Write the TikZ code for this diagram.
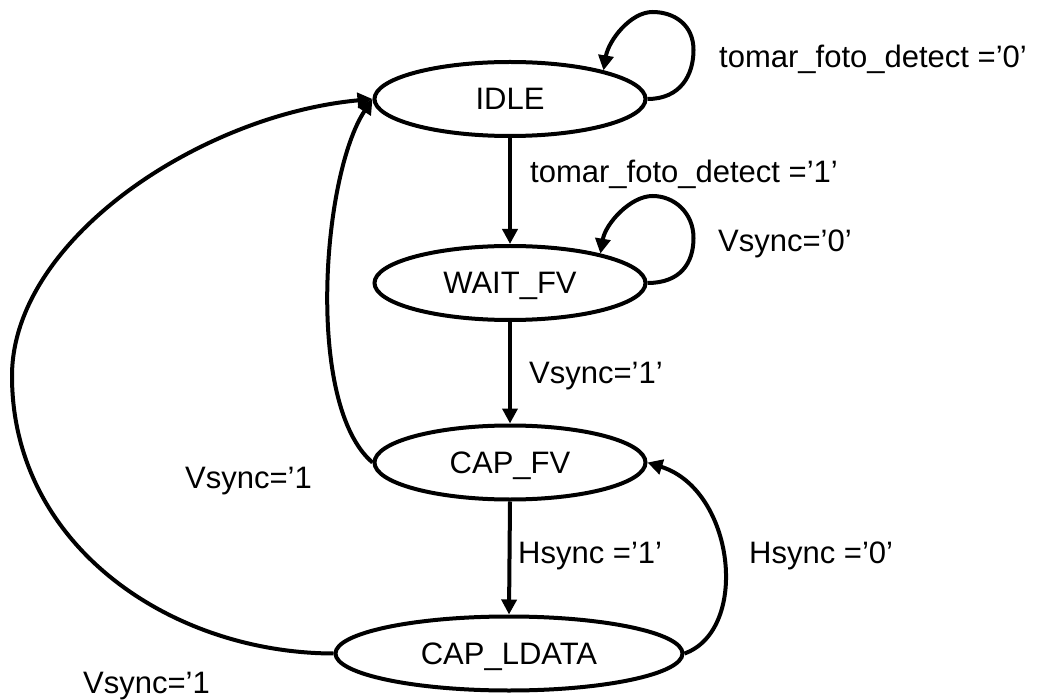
\documentclass[tikz,border=0pt]{standalone}
\usepackage{fontspec}
\setmainfont{Liberation Sans}
\usetikzlibrary{shapes.geometric,arrows.meta,calc}
\begin{document}
\begin{tikzpicture}[x=1pt,y=-1pt,
  every node/.style={font=\fontsize{31}{36}\selectfont},
  state/.style={draw,ellipse,line width=4pt,inner sep=0pt,minimum width=271pt,minimum height=74pt,text height=22pt,text depth=0pt},
  wide/.style={minimum width=347pt},
  arr/.style={line width=4pt,-{Triangle[length=15pt,width=15pt]}},
  lbl/.style={anchor=base west,inner sep=0pt}]
\useasboundingbox (0,0) rectangle (1041,700);
\node[state] (idle) at (510,99) {IDLE};
\node[state] (wait) at (510,283) {WAIT\_FV};
\node[state] (capfv) at (510,462.5) {CAP\_FV};
\node[state,wide] (cldata) at (509,653.5) {CAP\_LDATA};
\coordinate (bigleft) at (12,376);
% vertical transitions
\draw[arr] (idle.south) -- (wait.north);
\draw[arr] (wait.south) -- (capfv.north);
\draw[arr] (capfv.south) -- (cldata.north);
% self loops
\draw[arr] (idle.east) .. controls +(33,0) and +(0,25) .. ($(idle.east)+(46,-49)$)
  .. controls +(0,-25) and +(22,0) .. ($(idle.east)+(5,-87)$)
  .. controls +(-22,0) and +(5,-30) .. (idle.17);
\draw[arr] (wait.east) .. controls +(33,0) and +(0,25) .. ($(wait.east)+(46,-45)$)
  .. controls +(0,-25) and +(22,0) .. ($(wait.east)+(5,-87)$)
  .. controls +(-22,0) and +(5,-30) .. (wait.18);
% back transitions
\draw[arr] (capfv.west) .. controls (305,405) and (322,175) .. (idle.west);
\draw[arr] (cldata.west) .. controls (170,653) and (12,545) .. (bigleft)
  .. controls (12,240) and (200,115) .. (idle.west);
\draw[arr] (cldata.east) .. controls (750,630) and (735,490) .. (capfv.east);
% labels
\node[lbl] (l0) at (719,68) {tomar\_foto\_detect =’0’};
\node[lbl] (l1) at (530,183) {tomar\_foto\_detect =’1’};
\node[lbl] (l2) at (718,252) {Vsync=’0’};
\node[lbl] (l3) at (529,383) {Vsync=’1’};
\node[lbl] (l4) at (185,488) {Vsync=’1};
\node[lbl] (l5) at (518,563) {Hsync =’1’};
\node[lbl] (l6) at (749,563) {Hsync =’0’};
\node[lbl] (l7) at (83,693) {Vsync=’1};
\end{tikzpicture}
\end{document}
